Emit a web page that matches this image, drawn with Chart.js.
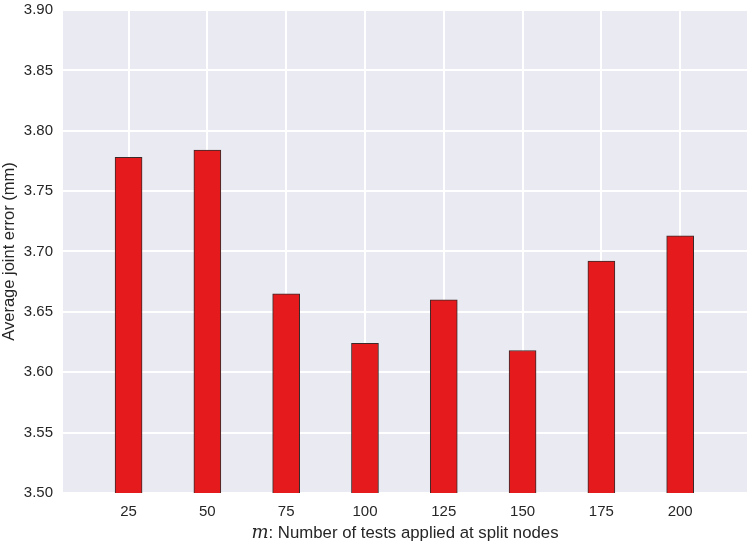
<!DOCTYPE html>
<html>
<head>
<meta charset="utf-8">
<script src="https://cdn.jsdelivr.net/npm/chart.js@4"></script>
<style>
  html, body { margin: 0; padding: 0; background: #fff; }
  #wrap { width: 747px; height: 542px; }
</style>
</head>
<body>
<div id="wrap"><canvas id="errChart" width="747" height="542"></canvas></div>
<script>
// m values (number of tests at split nodes)
const testCounts = [25, 50, 75, 100, 125, 150, 175, 200];
// average joint error in mm
const jointErrors = [3.778, 3.784, 3.665, 3.624, 3.660, 3.618, 3.692, 3.713];
const yTicks = [3.50, 3.55, 3.60, 3.65, 3.70, 3.75, 3.80, 3.85, 3.90];

const FONT = "'Liberation Sans', Arial, Helvetica, sans-serif";

// seaborn-ish grey background behind the plot
const plotBg = {
    id: 'plotBg',
    beforeDraw(chart) {
        const { ctx, chartArea: a } = chart;
        ctx.save();
        ctx.fillStyle = '#EAEAF2';
        ctx.fillRect(a.left, a.top, a.right - a.left, a.bottom - a.top);
        ctx.restore();
    }
};

// x title with an italic math "m"
const xTitle = {
    id: 'xTitle',
    afterDraw(chart) {
        const { ctx, chartArea: a } = chart;
        const part1 = 'm';
        const part2 = ': Number of tests applied at split nodes';
        const mathFont = "italic 18px 'DejaVu Serif', 'Liberation Serif', serif";
        const textFont = '16.8px ' + FONT;
        ctx.save();
        ctx.textBaseline = 'middle';
        ctx.fillStyle = '#262626';
        ctx.font = mathFont;
        const w1 = ctx.measureText(part1).width;
        ctx.font = textFont;
        const w2 = ctx.measureText(part2).width;
        const cx = (a.left + a.right) / 2;
        const x = cx - (w1 + w2) / 2;
        const y = 533;
        ctx.font = mathFont;
        ctx.fillText(part1, x, y);
        ctx.font = textFont;
        ctx.fillText(part2, x + w1, y);
        ctx.restore();
    }
};

new Chart(document.getElementById('errChart'), {
    type: 'bar',
    data: {
        datasets: [{
            label: 'Average joint error',
            data: testCounts.map((m, i) => ({ x: m, y: jointErrors[i] })),
            backgroundColor: '#E41A1C',
            borderColor: '#3a2a2a',
            borderWidth: 1,
            borderSkipped: 'bottom',
            barThickness: 27
        }]
    },
    options: {
        responsive: false,
        animation: false,
        layout: { padding: { top: 10, right: 0, left: 0, bottom: 0 } },
        plugins: {
            legend: { display: false },
            tooltip: { enabled: false }
        },
        scales: {
            x: {
                type: 'linear',
                offset: false,
                min: 4.2,
                max: 221.2,
                afterBuildTicks(scale) {
                    scale.ticks = testCounts.map(v => ({ value: v }));
                },
                afterFit(scale) {
                    scale.height = 49;
                    scale.paddingLeft = 0;
                    scale.paddingRight = 0;
                },
                grid: { color: '#ffffff', lineWidth: 2, drawTicks: false, offset: false },
                border: { display: false },
                ticks: {
                    padding: 10,
                    color: '#262626',
                    font: { family: FONT, size: 15 },
                    callback: v => String(v)
                }
            },
            y: {
                min: 3.5,
                max: 3.9,
                afterBuildTicks(scale) {
                    scale.ticks = yTicks.map(v => ({ value: v }));
                },
                afterFit(scale) {
                    scale.width = 63;
                    scale.paddingTop = 0;
                    scale.paddingBottom = 0;
                },
                grid: { color: '#ffffff', lineWidth: 2, drawTicks: false },
                border: { display: false },
                ticks: {
                    padding: 10,
                    color: '#262626',
                    font: { family: FONT, size: 15 },
                    callback: v => v.toFixed(2)
                },
                title: {
                    display: true,
                    text: 'Average joint error (mm)',
                    color: '#262626',
                    font: { family: FONT, size: 16.5 },
                    padding: { top: 0, bottom: 0 }
                }
            }
        }
    },
    plugins: [plotBg, xTitle]
});
</script>
</body>
</html>
